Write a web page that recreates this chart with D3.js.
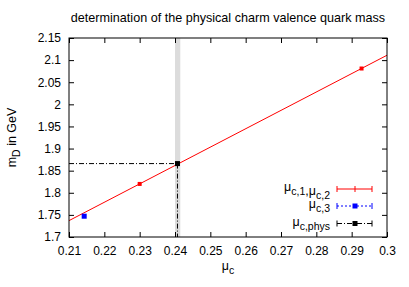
<!DOCTYPE html>
<html>
<head>
<meta charset="utf-8">
<script src="https://d3js.org/d3.v7.min.js"></script>
<style>
  body { margin: 0; background: #fff; }
  text { font-family: "Liberation Sans", Arial, sans-serif; fill: #000; }
</style>
</head>
<body>
<script>
// data
var fitPoints = [{mu: 0.2300, m: 1.820}, {mu: 0.2928, m: 2.081}];
var extraPoint = [{mu: 0.2143, m: 1.747}];
var physPoint = [{mu: 0.2407, m: 1.866}];
var physBand = [0.2400, 0.2415];
var fitLine = [{mu: 0.21, m: 1.737}, {mu: 0.30, m: 2.111}];
var xTicks = [0.21, 0.22, 0.23, 0.24, 0.25, 0.26, 0.27, 0.28, 0.29, 0.3];
var yTicks = [1.7, 1.75, 1.8, 1.85, 1.9, 1.95, 2, 2.05, 2.1, 2.15];

var w = 409, h = 287;
var pLeft = 69, pRight = 387, pTop = 38, pBottom = 237;

var svg = d3.select("body").append("svg")
  .attr("width", w).attr("height", h);

var x = d3.scaleLinear().domain([0.21, 0.3]).range([pLeft, pRight]);
var y = d3.scaleLinear().domain([1.7, 2.15]).range([pBottom, pTop]);

// gray band for the physical value
svg.append("rect")
  .attr("x", x(physBand[0])).attr("y", pTop)
  .attr("width", x(physBand[1]) - x(physBand[0]))
  .attr("height", pBottom - pTop)
  .attr("fill", "#dcdcdc");

// ticks (inside, mirrored)
var tl = 5;
var fmt = function(d){ return String(+d.toFixed(2)); };
svg.append("g").attr("transform", "translate(0," + pBottom + ")")
  .call(d3.axisBottom(x).tickValues(xTicks).tickSize(-tl).tickPadding(9).tickFormat(fmt));
svg.append("g").attr("transform", "translate(0," + pTop + ")")
  .call(d3.axisTop(x).tickValues(xTicks).tickSize(-tl).tickFormat(""));
svg.append("g").attr("transform", "translate(" + pLeft + ",0)")
  .call(d3.axisLeft(y).tickValues(yTicks).tickSize(-tl).tickPadding(8).tickFormat(fmt));
svg.append("g").attr("transform", "translate(" + pRight + ",0)")
  .call(d3.axisRight(y).tickValues(yTicks).tickSize(-tl).tickFormat(""));
svg.selectAll(".domain").remove();
svg.selectAll(".tick line").attr("stroke", "#000");
svg.selectAll(".tick text").style("font-size", "12px")
  .style("font-family", "Liberation Sans, Arial, sans-serif");

// dash-dot guide lines to the physical point
var p = physPoint[0];
svg.append("line")
  .attr("x1", x(0.21)).attr("x2", x(p.mu))
  .attr("y1", y(p.m)).attr("y2", y(p.m))
  .attr("stroke", "#000").attr("stroke-dasharray", "5,2,1,2");
svg.append("line")
  .attr("x1", x(p.mu)).attr("x2", x(p.mu))
  .attr("y1", y(p.m)).attr("y2", y(1.7))
  .attr("stroke", "#000").attr("stroke-dasharray", "5,2,1,2");

// fit line
svg.append("path")
  .datum(fitLine)
  .attr("fill", "none").attr("stroke", "#ff0000")
  .attr("d", d3.line().x(function(d){ return x(d.mu); }).y(function(d){ return y(d.m); }));

// points
function squares(data, col, s) {
  svg.selectAll(null).data(data).enter().append("rect")
    .attr("x", function(d){ return x(d.mu) - s / 2; })
    .attr("y", function(d){ return y(d.m) - s / 2; })
    .attr("width", s).attr("height", s)
    .attr("fill", col);
}
squares(fitPoints, "#ff0000", 4);
squares(extraPoint, "#0000ff", 5);
squares(physPoint, "#000", 5);

// frame
svg.append("rect")
  .attr("x", pLeft).attr("y", pTop)
  .attr("width", pRight - pLeft).attr("height", pBottom - pTop)
  .attr("fill", "none").attr("stroke", "#000");

// legend
var legend = [
  {col: "#ff0000", dash: null, pt: false, y: 189, sub: [["μ", "c,1"], [",μ", "c,2"]]},
  {col: "#0000ff", dash: "2,2", pt: true, y: 206, sub: [["μ", "c,3"]]},
  {col: "#000", dash: "5,2,1,2", pt: true, y: 223.5, sub: [["μ", "c,phys"]]}
];
var lx1 = 337, lx2 = 372, lxm = 355;
legend.forEach(function(e) {
  var g = svg.append("g");
  g.append("line").attr("x1", lx1).attr("x2", lx2).attr("y1", e.y).attr("y2", e.y)
    .attr("stroke", e.col).attr("stroke-dasharray", e.dash);
  [lx1, lx2].forEach(function(xx) {
    g.append("line").attr("x1", xx).attr("x2", xx).attr("y1", e.y - 3).attr("y2", e.y + 3)
      .attr("stroke", e.col);
  });
  if (e.pt) {
    g.append("rect").attr("x", lxm - 2.5).attr("y", e.y - 2.5).attr("width", 5).attr("height", 5)
      .attr("fill", e.col);
  } else {
    g.append("line").attr("x1", lxm).attr("x2", lxm).attr("y1", e.y - 3).attr("y2", e.y + 3)
      .attr("stroke", e.col);
  }
  var t = g.append("text").attr("x", 330).attr("y", e.y + 2).attr("text-anchor", "end")
    .style("font-size", "12.5px");
  e.sub.forEach(function(s) {
    t.append("tspan").attr("dy", 0).text(s[0]);
    t.append("tspan").attr("dy", 4).style("font-size", "10.5px").text(s[1]);
    t.append("tspan").attr("dy", -4).text("");
  });
});

// title and axis labels
svg.append("text").attr("x", 228).attr("y", 22).attr("text-anchor", "middle")
  .style("font-size", "12.6px")
  .text("determination of the physical charm valence quark mass");

var xl = svg.append("text").attr("x", 228).attr("y", 270).attr("text-anchor", "middle")
  .style("font-size", "12.5px");
xl.append("tspan").text("μ");
xl.append("tspan").attr("dy", 4).style("font-size", "10.5px").text("c");

var yl = svg.append("text")
  .attr("transform", "translate(16," + ((pTop + pBottom) / 2) + ") rotate(-90)")
  .attr("text-anchor", "middle").style("font-size", "12.5px");
yl.append("tspan").text("m");
yl.append("tspan").attr("dy", 4).style("font-size", "10.5px").text("D");
yl.append("tspan").attr("dy", -4).text("  in GeV");
</script>
</body>
</html>
